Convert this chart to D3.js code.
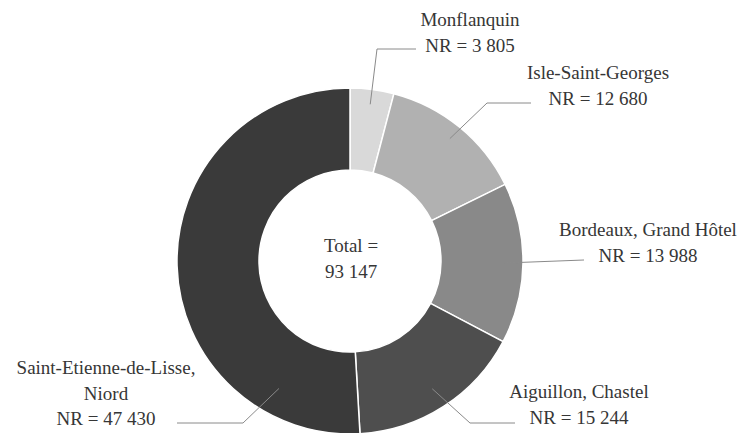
<!DOCTYPE html>
<html>
<head>
<meta charset="utf-8">
<script src="https://cdn.jsdelivr.net/npm/d3@7.9.0/dist/d3.min.js"></script>
<style>
  html, body { margin: 0; padding: 0; background: #fff; }
  svg { display: block; }
</style>
</head>
<body>
<svg id="chart" width="746" height="433"></svg>
<script>
// sites and NR counts
const sites = ['Monflanquin', 'Isle-Saint-Georges', 'Bordeaux, Grand Hôtel', 'Aiguillon, Chastel', 'Saint-Etienne-de-Lisse, Niord'];
const nrValues = [3805, 12680, 13988, 15244, 47430];
const labelLines = [
    ['Monflanquin'],
    ['Isle-Saint-Georges'],
    ['Bordeaux, Grand Hôtel'],
    ['Aiguillon, Chastel'],
    ['Saint-Etienne-de-Lisse,', 'Niord']
];
const sliceColors = ['#d9d9d9', '#b1b1b1', '#898989', '#4e4e4e', '#3a3a3a'];

// label placement (layout only)
const labelLayout = [
    { frac: 0.5, r: 158, elbow: [377, 49], end: [416, 49], x: 470, y: 26 },
    { frac: 0.5, r: 158, elbow: [487, 103], end: [531, 103], x: 598, y: 79 },
    { frac: 0.5, r: 155, elbow: null, end: [584, 260], x: 648, y: 236 },
    { frac: 0.5, r: 152, elbow: [470, 423], end: [515, 423], x: 579, y: 398 },
    { frac: 0.177, r: 146, elbow: [243, 423], end: [177, 423], x: 106, y: 374 }
];

const FONT = "'Liberation Serif', 'DejaVu Serif', 'Noto Serif', 'Times New Roman', Times, serif";
const fmt = (n) => d3.format(',')(n).replace(/,/g, ' ');
const total = d3.sum(nrValues);

const cx = 350, cy = 261;
const outerR = 173, innerR = 91;
const lineH = 25.5;

const svg = d3.select('#chart');
const g = svg.append('g').attr('transform', `translate(${cx},${cy})`);

const data = sites.map((s, i) => ({ site: s, value: nrValues[i], idx: i }));
const pie = d3.pie().value((d) => d.value).sort(null);
const arcs = pie(data);
const arcGen = d3.arc().innerRadius(innerR).outerRadius(outerR);

g.selectAll('path')
    .data(arcs)
    .enter()
    .append('path')
    .attr('d', arcGen)
    .attr('fill', (d) => sliceColors[d.data.idx])
    .attr('stroke', '#fff')
    .attr('stroke-width', 1.5);

function addText(x, y, lines) {
    const t = svg.append('text')
        .attr('text-anchor', 'middle')
        .attr('font-family', FONT)
        .attr('font-size', 19)
        .attr('fill', '#363636')
        .attr('x', x)
        .attr('y', y);
    lines.forEach((ln, k) => {
        t.append('tspan')
            .attr('x', x)
            .attr('dy', k === 0 ? 0 : lineH)
            .text(ln);
    });
}

// leader lines + labels
arcs.forEach((a, i) => {
    const L = labelLayout[i];
    const ang = a.startAngle + (a.endAngle - a.startAngle) * L.frac;
    const p0 = [cx + Math.sin(ang) * L.r, cy - Math.cos(ang) * L.r];
    const pts = [p0];
    if (L.elbow) pts.push(L.elbow);
    pts.push(L.end);
    svg.append('path')
        .attr('d', d3.line()(pts))
        .attr('fill', 'none')
        .attr('stroke', '#8a8a8a')
        .attr('stroke-width', 1);

    addText(L.x, L.y, labelLines[i].concat([`NR = ${fmt(a.data.value)}`]));
});

// centre total
addText(cx + 1, 252, ['Total =', fmt(total)]);
</script>
</body>
</html>
